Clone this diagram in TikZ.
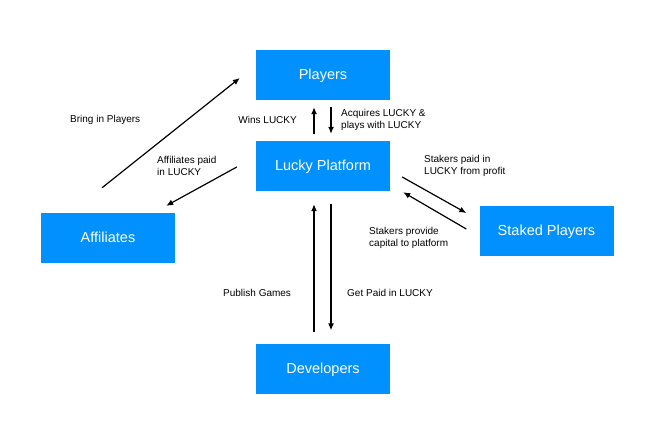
\documentclass[tikz,border=0pt]{standalone}
\usepackage{fontspec}
\setmainfont{Liberation Sans}
\usetikzlibrary{arrows.meta}
\definecolor{boxblue}{RGB}{0,145,255}
\tikzset{
  block/.style={fill=boxblue, text=white, minimum width=134pt, minimum height=50pt, inner sep=0pt, text height=10pt, text depth=1pt, font=\fontsize{14.5}{17}\selectfont},
  lbl/.style={font=\fontsize{10}{12}\selectfont, inner sep=0pt, align=left},
  flow/.style={line width=1.2pt, -{Latex[length=7pt,width=6pt]}}
}
\begin{document}
\begin{tikzpicture}[x=1pt, y=-1pt]
			%%%%% START %%%%%
			\useasboundingbox (0, 0) rectangle (657, 426);
			
			\node[block] (play) at (323, 75) {Players};
			\node[block] (plat) at (323, 166) {Lucky Platform};
			\node[block] (aff) at (108, 238) {Affiliates};
			\node[block] (stk) at (546.5, 230.5) {Staked Players};
			\node[block] (dev) at (323, 368.5) {Developers};
			
			\draw[flow, shorten <=7pt, shorten >=7pt] ([xshift=-9pt]plat.north) -- ([xshift=-9pt]play.south);
			\draw[flow, shorten <=7pt, shorten >=7pt] ([xshift=8pt]play.south) -- ([xshift=8pt]plat.north);
			\node[lbl, anchor=east] (wins) at (297, 120) {Wins LUCKY};
			\node[lbl, anchor=west] (acq) at (341, 120) {Acquires LUCKY \&\\plays with LUCKY};
			
			\draw[flow] ([shift={(-6,-25)}]aff.north) -- ([shift={(-16,3)}]play.west);
			\node[lbl, anchor=west] (bring) at (70, 120) {Bring in Players};
			
			\draw[flow] ([shift={(-19,1)}]plat.west) -- ([shift={(-9,-7)}]aff.north east);
			\node[lbl, anchor=west] (affpaid) at (157, 166) {Affiliates paid\\in LUCKY};
			
			\draw[flow] ([shift={(12,11)}]plat.east) -- ([shift={(-13,-17.5)}]stk.west);
			\draw[flow] ([shift={(-13,-1.5)}]stk.west) -- ([shift={(13,1)}]plat.south east);
			\node[lbl, anchor=west] (stkpaid) at (424, 166) {Stakers paid in\\LUCKY from profit};
			\node[lbl, anchor=west] (stkcap) at (369, 238) {Stakers provide\\capital to platform};
			
			\draw[flow, shorten <=11pt, shorten >=13pt] ([xshift=-9pt]dev.north) -- ([xshift=-9pt]plat.south);
			\draw[flow, shorten <=13pt, shorten >=13pt] ([xshift=8pt]plat.south) -- ([xshift=8pt]dev.north);
			\node[lbl, anchor=west] (pub) at (223, 293) {Publish Games};
			\node[lbl, anchor=west] (getpaid) at (347, 293) {Get Paid in LUCKY};
			
			%%%%% END %%%%%
		\end{tikzpicture}
\end{document}
